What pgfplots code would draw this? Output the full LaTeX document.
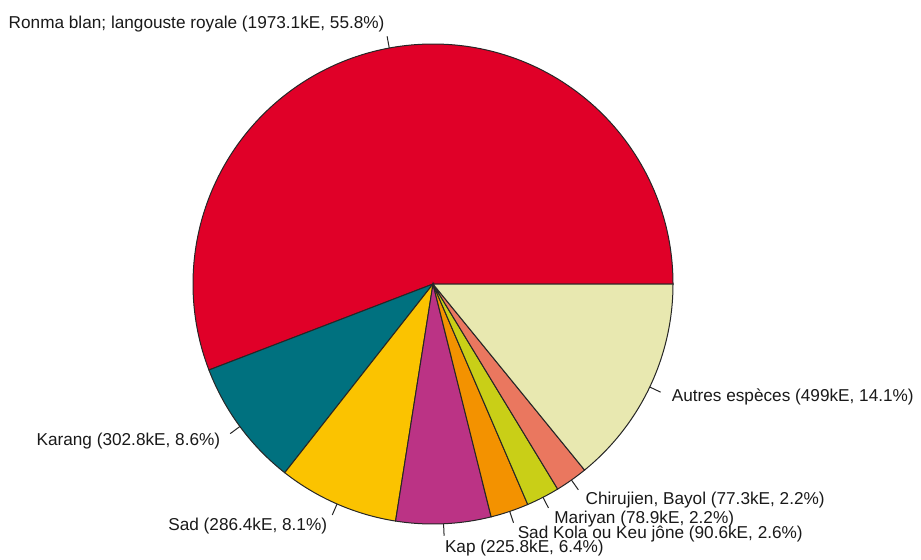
\documentclass[border=0pt]{standalone}
\usepackage{fontspec}
\setmainfont{Liberation Sans}
\usepackage{pgfplots}
\usepackage{pgfplotstable}
\pgfplotsset{compat=1.18}

\definecolor{pieRed}{HTML}{E00028}
\definecolor{pieTeal}{HTML}{00717F}
\definecolor{pieYellow}{HTML}{FBC300}
\definecolor{pieMagenta}{HTML}{BB3385}
\definecolor{pieOrange}{HTML}{F39200}
\definecolor{pieLime}{HTML}{C9CF17}
\definecolor{pieSalmon}{HTML}{EA775F}
\definecolor{piePale}{HTML}{E8E8B0}

% catch value in kE, share in percent, slice colour
\pgfplotstableread[col sep=colon,row sep=\\]{
name:value:pct:colour\\
Ronma blan; langouste royale:1973.1:55.8:pieRed\\
Karang:302.8:8.6:pieTeal\\
Sad:286.4:8.1:pieYellow\\
Kap:225.8:6.4:pieMagenta\\
Sad Kola ou Keu jône:90.6:2.6:pieOrange\\
Mariyan:78.9:2.2:pieLime\\
Chirujien, Bayol:77.3:2.2:pieSalmon\\
Autres espèces:499:14.1:piePale\\
}\piedata

% angles, R style: counterclockwise from 3 o'clock
\def\total{0}
\pgfplotsforeachungrouped \i in {0,...,7}{%
  \pgfplotstablegetelem{\i}{value}\of\piedata
  \pgfmathsetmacro\total{\total+\pgfplotsretval}%
}
\def\cum{0}
\pgfplotsforeachungrouped \i in {0,...,7}{%
  \pgfplotstablegetelem{\i}{value}\of\piedata
  \expandafter\global\expandafter\let\csname val\i\endcsname\pgfplotsretval
  \pgfmathsetmacro\sa{\cum/\total*360}%
  \pgfmathsetmacro\cum{\cum+\pgfplotsretval}%
  \pgfmathsetmacro\sb{\cum/\total*360}%
  \pgfmathsetmacro\sm{(\sa+\sb)/2}%
  \expandafter\xdef\csname sa\i\endcsname{\sa}%
  \expandafter\xdef\csname sb\i\endcsname{\sb}%
  \expandafter\xdef\csname sm\i\endcsname{\sm}%
  \pgfmathparse{cos(\sm)<0 ? "east" : "west"}%
  \expandafter\xdef\csname an\i\endcsname{\pgfmathresult}%
  \pgfplotstablegetelem{\i}{name}\of\piedata
  \expandafter\global\expandafter\let\csname nm\i\endcsname\pgfplotsretval
  \pgfplotstablegetelem{\i}{pct}\of\piedata
  \expandafter\global\expandafter\let\csname pc\i\endcsname\pgfplotsretval
  \pgfplotstablegetelem{\i}{colour}\of\piedata
  \expandafter\global\expandafter\let\csname cl\i\endcsname\pgfplotsretval
}

\begin{document}
\begin{tikzpicture}
\useasboundingbox (0,0) rectangle (460.5pt,279.5pt);
\begin{axis}[
  at={(0,0)}, anchor=south west,
  width=460.5pt, height=279.5pt, scale only axis,
  xmin=0, xmax=921, ymin=0, ymax=559,
  hide axis, clip=false
]
\pgfplotsinvokeforeach{0,...,7}{
  \fill[fill=\csname cl#1\endcsname, draw=black!85, line width=0.5pt]
    (axis cs:433,275) -- ++(\csname sa#1\endcsname:120pt)
    arc[start angle=\csname sa#1\endcsname, end angle=\csname sb#1\endcsname, radius=120pt] -- cycle;
  \draw[black!85, line width=0.5pt] (axis cs:433,275) ++(\csname sm#1\endcsname:120pt) -- ++(\csname sm#1\endcsname:6pt);
  \node[anchor=\csname an#1\endcsname, inner sep=0pt, text=black!90,
        font=\fontsize{8.6}{10}\selectfont]
    at ([shift={(\csname sm#1\endcsname:132pt)}]axis cs:433,275)
    {\csname nm#1\endcsname\ (\csname val#1\endcsname kE, \csname pc#1\endcsname\%)};
}
\end{axis}
\end{tikzpicture}
\end{document}
